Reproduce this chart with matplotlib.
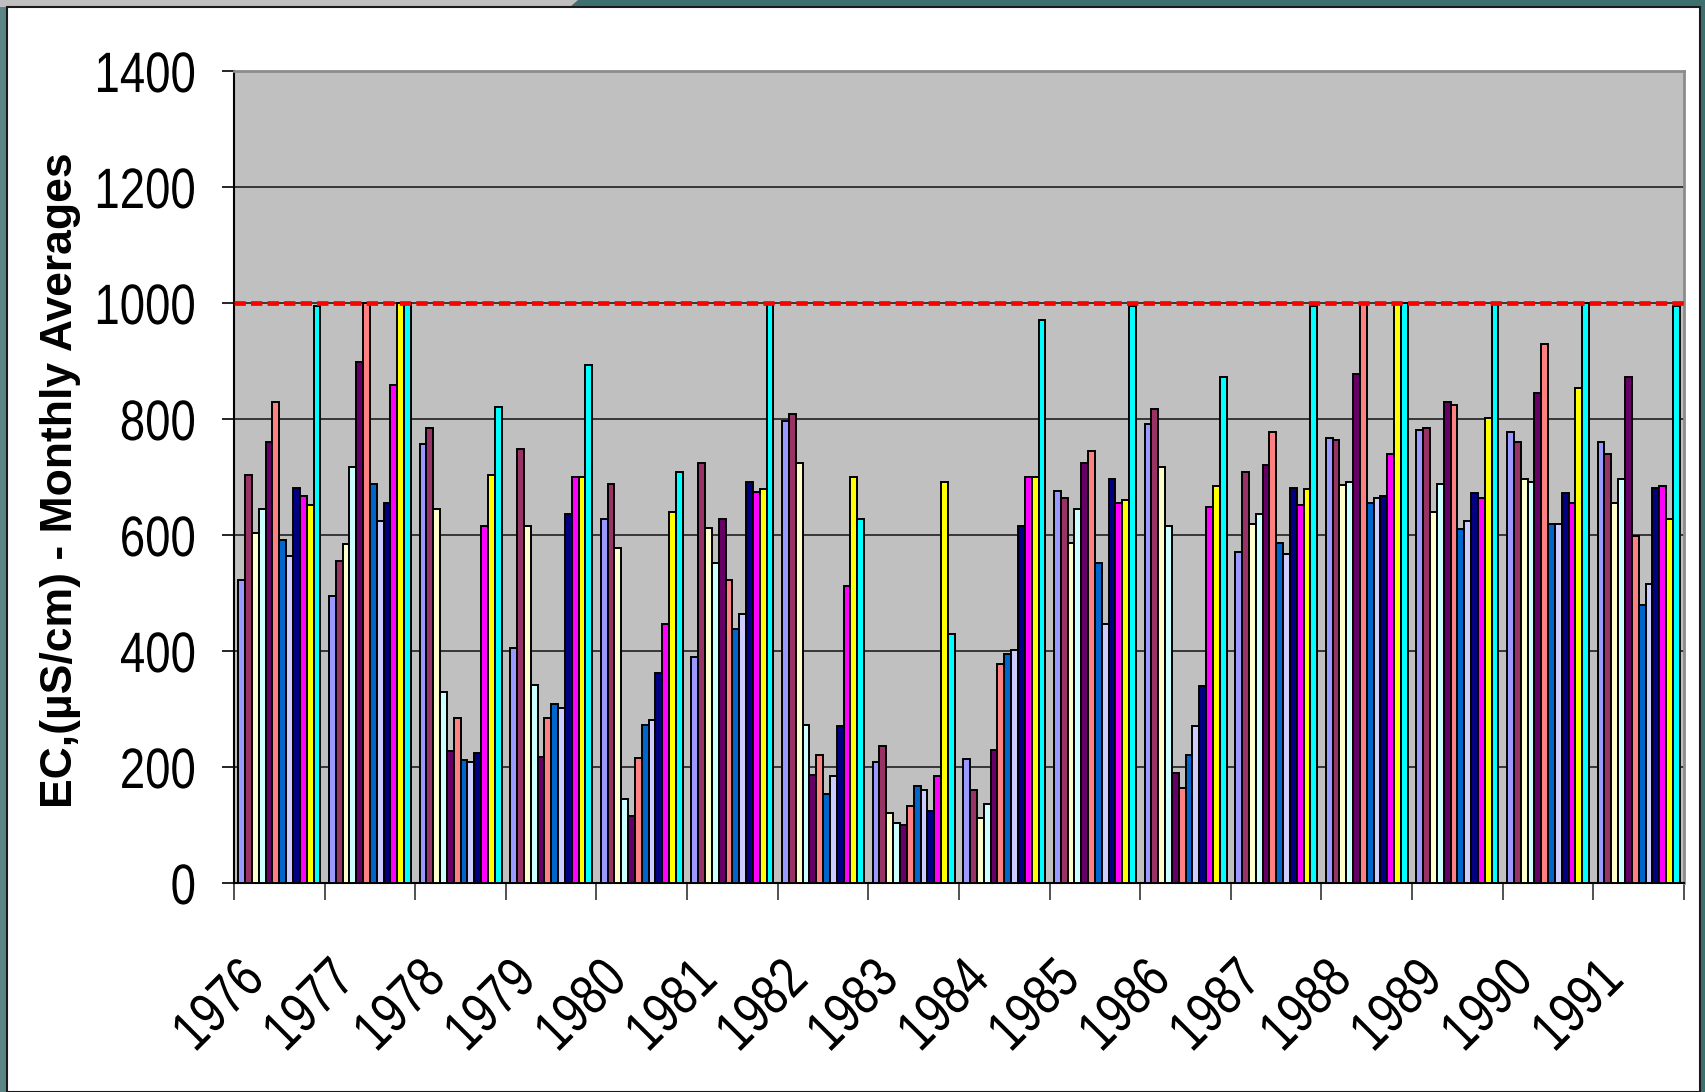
import matplotlib
matplotlib.use("Agg")
import matplotlib.pyplot as plt
import numpy as np
from matplotlib.patches import Rectangle, Polygon
from matplotlib.transforms import ScaledTranslation, Affine2D
from matplotlib.patheffects import AbstractPathEffect

# years on the x axis
years = ["1976", "1977", "1978", "1979", "1980", "1981", "1982", "1983",
         "1984", "1985", "1986", "1987", "1988", "1989", "1990", "1991"]

# monthly averages of EC, one list per month (one value per year)
jan = [522, 495, 757, 405, 628, 390, 797, 209, 213, 676, 792, 571, 768, 781, 777, 760]
feb = [704, 555, 785, 749, 688, 724, 809, 237, 160, 664, 817, 708, 764, 785, 760, 740]
mar = [604, 584, 644, 615, 578, 612, 724, 120, 112, 587, 717, 619, 687, 640, 696, 655]
apr = [644, 717, 329, 341, 144, 551, 273, 104, 136, 644, 615, 636, 691, 688, 691, 696]
may = [761, 898, 228, 217, 115, 628, 186, 100, 229, 724, 189, 721, 878, 829, 845, 873]
jun = [829, 1000, 285, 285, 216, 523, 221, 132, 378, 745, 164, 777, 1000, 825, 930, 599]
jul = [591, 688, 212, 309, 273, 438, 153, 168, 394, 551, 221, 587, 655, 611, 619, 479]
aug = [563, 624, 208, 301, 281, 463, 185, 160, 402, 446, 270, 567, 664, 624, 619, 515]
sep = [681, 656, 225, 636, 362, 691, 270, 124, 616, 696, 339, 681, 668, 672, 672, 681]
octo = [668, 858, 615, 700, 446, 675, 512, 185, 700, 655, 648, 652, 740, 664, 655, 684]
nov = [651, 1000, 704, 700, 640, 680, 700, 691, 700, 660, 684, 680, 1000, 801, 854, 628]
dec = [994, 1000, 821, 893, 708, 1000, 628, 430, 971, 994, 873, 994, 1000, 1000, 1000, 994]

months = [jan, feb, mar, apr, may, jun, jul, aug, sep, octo, nov, dec]
colors = ["#9999FF", "#993366", "#FFFFCC", "#CCFFFF", "#660066", "#FF8080",
          "#0066CC", "#CCCCFF", "#000080", "#FF00FF", "#FFFF00", "#00FFFF"]

limit = 1000


# squeeze glyphs sideways to imitate a narrow font (keeps the right end fixed)
class Narrow(AbstractPathEffect):
    def __init__(self, sx=0.82):
        super().__init__()
        self.sx = sx

    def draw_path(self, renderer, gc, tpath, affine, rgbFace=None):
        xr = tpath.get_extents().x1
        t = Affine2D().translate(-xr, 0).scale(self.sx, 1).translate(xr, 0) + affine
        renderer.draw_path(gc, tpath, t, rgbFace)


W, H = 1706, 1092
fig = plt.figure(figsize=(W / 100, H / 100), dpi=100)
fig.patch.set_facecolor("#3F7070")

# slide frame: grey corner, teal border, white panel
fig.patches.append(Polygon([[0, 1], [578 / W, 1], [570 / W, 1 - 7 / H], [0, 1 - 7 / H]],
                           closed=True, transform=fig.transFigure,
                           facecolor="#BFBFBF", edgecolor="none", zorder=0))
fig.patches.append(Rectangle((0, 0), 7 / W, 1 - 7 / H, transform=fig.transFigure,
                             facecolor="#5E8585", edgecolor="none", zorder=0))
fig.patches.append(Rectangle((7 / W, 0), (1700 - 7) / W, 1 - 7 / H, transform=fig.transFigure,
                             facecolor="white", edgecolor="#1A1A1A", linewidth=1.5, zorder=1))

ax = fig.add_axes([234 / W, 1 - 883 / H, (1684 - 234) / W, (883 - 71) / H])
ax.set_zorder(2)
ax.set_facecolor("#C0C0C0")

x = np.arange(len(years))
n = len(months)
bw = 0.906 / n
start = x + 0.047
for i in range(n):
    ax.bar(start + i * bw, months[i], width=bw, align="edge", color=colors[i],
           edgecolor="black", linewidth=1.4, zorder=3)

ax.axhline(limit, color="#FF0000", linewidth=3.4, dashes=(2.4, 1.1), zorder=5)

ax.set_xlim(0, len(years))
ax.set_ylim(0, 1400)
ax.set_yticks(np.arange(0, 1401, 200))
ax.yaxis.grid(True, color="#202020", linewidth=1.2, zorder=1)
ax.set_axisbelow(True)

font = ["Liberation Sans", "DejaVu Sans"]

ax.set_xticks(np.arange(len(years) + 1))
ax.set_xticklabels([])
ax.set_xticks(x + 0.5, minor=True)
ax.set_xticklabels(years, minor=True, rotation=45, ha="right", va="center",
                   rotation_mode="anchor", fontsize=41, family=font)
ax.tick_params(axis="x", which="major", direction="out", length=12, width=1.2, color="#333333")
ax.tick_params(axis="x", which="minor", length=0, pad=63)
ax.tick_params(axis="y", direction="out", length=9, width=1.2, pad=18)
for lab in ax.get_yticklabels():
    lab.set_fontsize(41)
    lab.set_family(font)
    lab.set_path_effects([Narrow(0.8)])
for lab in ax.xaxis.get_minorticklabels():
    lab.set_path_effects([Narrow(0.8)])
    lab.set_transform(lab.get_transform() + ScaledTranslation(-0.23, 0, fig.dpi_scale_trans))

for side in ["top", "right"]:
    ax.spines[side].set_color("#8C8C8C")
    ax.spines[side].set_linewidth(2)
for side in ["left", "bottom"]:
    ax.spines[side].set_color("black")
    ax.spines[side].set_linewidth(1.5)

fig.text(61 / W, 1 - 480 / H, "EC,(\u00b5S/cm) - Monthly Averages", rotation=90,
         ha="center", va="center", fontsize=32, fontweight="bold",
         family=font, zorder=3)

fig.savefig("out.png", dpi=100, facecolor=fig.get_facecolor())
